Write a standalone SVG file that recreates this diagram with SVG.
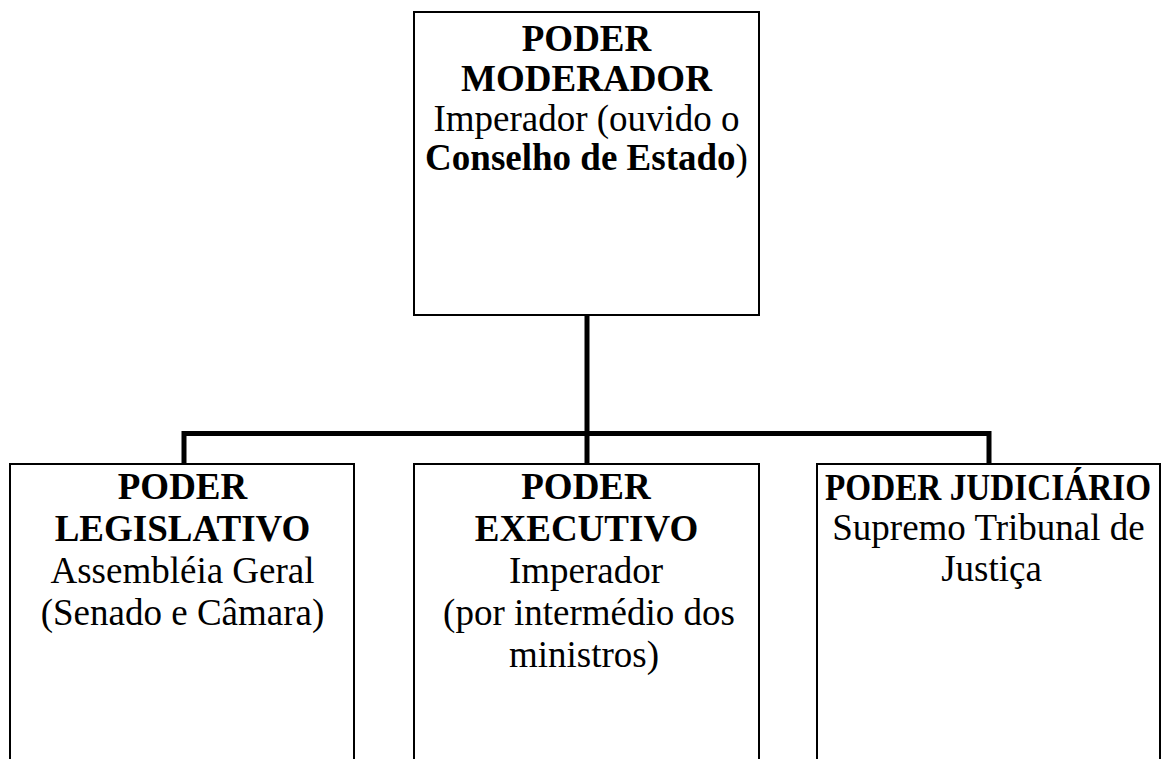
<svg xmlns="http://www.w3.org/2000/svg" width="1162" height="759" viewBox="0 0 1162 759">
<style>
.box{fill:#fff;stroke:#000;stroke-width:2}
.conn{fill:none;stroke:#000;stroke-width:5}
text{font-family:"Liberation Serif","Times New Roman",serif;font-size:37px;fill:#000;text-anchor:middle}
.b{font-weight:bold}
</style>
<rect width="1162" height="759" fill="#fff"/>
<g id="connectors">
<line class="conn" x1="587" y1="315" x2="587" y2="464"/>
<polyline class="conn" points="184,464 184,433.5 989,433.5 989,464"/>
</g>
<g id="moderador">
<rect class="box" x="414" y="12" width="345" height="303"/>
<text class="b" x="586.5" y="51">PODER</text>
<text class="b" x="586.5" y="91">MODERADOR</text>
<text x="586.5" y="131">Imperador (ouvido o</text>
<text x="586.5" y="170"><tspan class="b">Conselho de Estado</tspan>)</text>
</g>
<g id="legislativo">
<rect class="box" x="10" y="464" width="344" height="310"/>
<text class="b" x="182.5" y="499">PODER</text>
<text class="b" x="182.5" y="541">LEGISLATIVO</text>
<text x="182.5" y="583">Assembléia Geral</text>
<text x="182.5" y="625">(Senado e Câmara)</text>
</g>
<g id="executivo">
<rect class="box" x="414" y="464" width="345" height="310"/>
<text class="b" x="586" y="499">PODER</text>
<text class="b" x="586.5" y="541">EXECUTIVO</text>
<text x="586" y="583">Imperador</text>
<text x="589" y="625">(por intermédio dos</text>
<text x="584" y="667">ministros)</text>
</g>
<g id="judiciario">
<rect class="box" x="817" y="464" width="343" height="310"/>
<text class="b" x="988" y="500" font-size="35" textLength="326" lengthAdjust="spacingAndGlyphs">PODER JUDICIÁRIO</text>
<text x="988.5" y="540">Supremo Tribunal de</text>
<text x="991.5" y="581">Justiça</text>
</g>
</svg>
